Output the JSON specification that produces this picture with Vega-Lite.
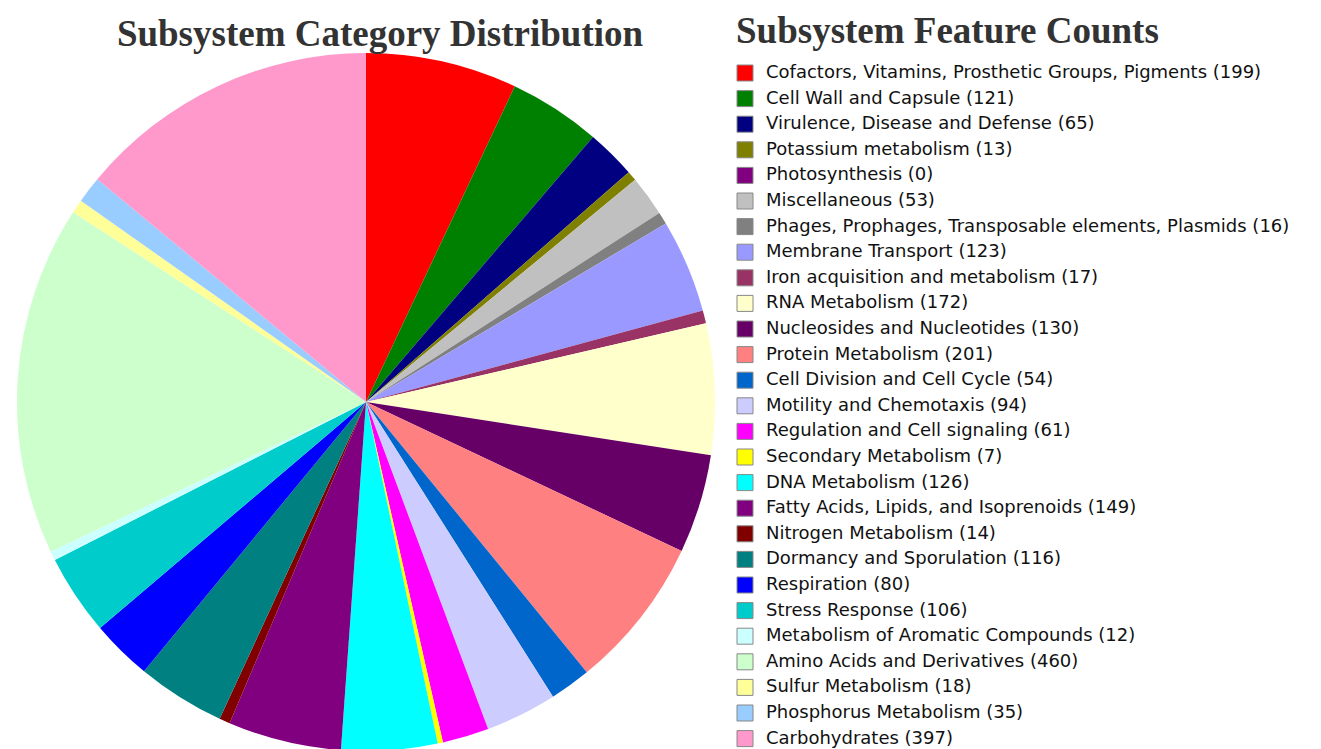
{
  "$schema": "https://vega.github.io/schema/vega-lite/v6.json",
  "autosize": {"type": "none"},
  "width": 732,
  "height": 694,
  "padding": {"top": 55, "left": 0, "right": 589, "bottom": 0},
  "background": "white",
  "view": {"stroke": null},
  "title": {
    "text": "Subsystem Category Distribution",
    "font": "Liberation Serif",
    "fontSize": 37,
    "fontWeight": "bold",
    "color": "#333333",
    "anchor": "middle",
    "dx": 14,
    "dy": 48,
    "offset": 8
  },
  "data": {
    "values": [
      {"i": 1, "name": "Cofactors, Vitamins, Prosthetic Groups, Pigments", "count": 199, "label": "Cofactors, Vitamins, Prosthetic Groups, Pigments (199)"},
      {"i": 2, "name": "Cell Wall and Capsule", "count": 121, "label": "Cell Wall and Capsule (121)"},
      {"i": 3, "name": "Virulence, Disease and Defense", "count": 65, "label": "Virulence, Disease and Defense (65)"},
      {"i": 4, "name": "Potassium metabolism", "count": 13, "label": "Potassium metabolism (13)"},
      {"i": 5, "name": "Photosynthesis", "count": 0, "label": "Photosynthesis (0)"},
      {"i": 6, "name": "Miscellaneous", "count": 53, "label": "Miscellaneous (53)"},
      {"i": 7, "name": "Phages, Prophages, Transposable elements, Plasmids", "count": 16, "label": "Phages, Prophages, Transposable elements, Plasmids (16)"},
      {"i": 8, "name": "Membrane Transport", "count": 123, "label": "Membrane Transport (123)"},
      {"i": 9, "name": "Iron acquisition and metabolism", "count": 17, "label": "Iron acquisition and metabolism (17)"},
      {"i": 10, "name": "RNA Metabolism", "count": 172, "label": "RNA Metabolism (172)"},
      {"i": 11, "name": "Nucleosides and Nucleotides", "count": 130, "label": "Nucleosides and Nucleotides (130)"},
      {"i": 12, "name": "Protein Metabolism", "count": 201, "label": "Protein Metabolism (201)"},
      {"i": 13, "name": "Cell Division and Cell Cycle", "count": 54, "label": "Cell Division and Cell Cycle (54)"},
      {"i": 14, "name": "Motility and Chemotaxis", "count": 94, "label": "Motility and Chemotaxis (94)"},
      {"i": 15, "name": "Regulation and Cell signaling", "count": 61, "label": "Regulation and Cell signaling (61)"},
      {"i": 16, "name": "Secondary Metabolism", "count": 7, "label": "Secondary Metabolism (7)"},
      {"i": 17, "name": "DNA Metabolism", "count": 126, "label": "DNA Metabolism (126)"},
      {"i": 18, "name": "Fatty Acids, Lipids, and Isoprenoids", "count": 149, "label": "Fatty Acids, Lipids, and Isoprenoids (149)"},
      {"i": 19, "name": "Nitrogen Metabolism", "count": 14, "label": "Nitrogen Metabolism (14)"},
      {"i": 20, "name": "Dormancy and Sporulation", "count": 116, "label": "Dormancy and Sporulation (116)"},
      {"i": 21, "name": "Respiration", "count": 80, "label": "Respiration (80)"},
      {"i": 22, "name": "Stress Response", "count": 106, "label": "Stress Response (106)"},
      {"i": 23, "name": "Metabolism of Aromatic Compounds", "count": 12, "label": "Metabolism of Aromatic Compounds (12)"},
      {"i": 24, "name": "Amino Acids and Derivatives", "count": 460, "label": "Amino Acids and Derivatives (460)"},
      {"i": 25, "name": "Sulfur Metabolism", "count": 18, "label": "Sulfur Metabolism (18)"},
      {"i": 26, "name": "Phosphorus Metabolism", "count": 35, "label": "Phosphorus Metabolism (35)"},
      {"i": 27, "name": "Carbohydrates", "count": 397, "label": "Carbohydrates (397)"}
    ]
  },
  "mark": {"type": "arc", "outerRadius": 349},
  "encoding": {
    "theta": {"field": "count", "type": "quantitative", "stack": true},
    "order": {"field": "i", "type": "quantitative"},
    "color": {
      "field": "label",
      "type": "nominal",
      "scale": {
        "domain": [
          "Cofactors, Vitamins, Prosthetic Groups, Pigments (199)",
          "Cell Wall and Capsule (121)",
          "Virulence, Disease and Defense (65)",
          "Potassium metabolism (13)",
          "Photosynthesis (0)",
          "Miscellaneous (53)",
          "Phages, Prophages, Transposable elements, Plasmids (16)",
          "Membrane Transport (123)",
          "Iron acquisition and metabolism (17)",
          "RNA Metabolism (172)",
          "Nucleosides and Nucleotides (130)",
          "Protein Metabolism (201)",
          "Cell Division and Cell Cycle (54)",
          "Motility and Chemotaxis (94)",
          "Regulation and Cell signaling (61)",
          "Secondary Metabolism (7)",
          "DNA Metabolism (126)",
          "Fatty Acids, Lipids, and Isoprenoids (149)",
          "Nitrogen Metabolism (14)",
          "Dormancy and Sporulation (116)",
          "Respiration (80)",
          "Stress Response (106)",
          "Metabolism of Aromatic Compounds (12)",
          "Amino Acids and Derivatives (460)",
          "Sulfur Metabolism (18)",
          "Phosphorus Metabolism (35)",
          "Carbohydrates (397)"
        ],
        "range": [
          "#FF0000", "#008000", "#000080", "#808000", "#800080", "#C0C0C0", "#808080",
          "#9999FF", "#993366", "#FFFFCC", "#660066", "#FF8080", "#0066CC", "#CCCCFF",
          "#FF00FF", "#FFFF00", "#00FFFF", "#800080", "#800000", "#008080", "#0000FF",
          "#00CCCC", "#CCFFFF", "#CCFFCC", "#FFFF99", "#99CCFF", "#FF99CC"
        ]
      },
      "legend": {
        "title": "Subsystem Feature Counts",
        "orient": "none",
        "legendX": 736,
        "legendY": -41,
        "titleFont": "Liberation Serif",
        "titleFontSize": 37,
        "titleFontWeight": "bold",
        "titleColor": "#333333",
        "titlePadding": 13,
        "titleLimit": 600,
        "labelFont": "DejaVu Sans",
        "labelFontSize": 18,
        "labelColor": "#111111",
        "labelLimit": 600,
        "labelOffset": 12,
        "symbolType": "square",
        "symbolSize": 256,
        "symbolStrokeColor": "#888888",
        "symbolStrokeWidth": 1,
        "symbolOpacity": 1,
        "rowPadding": 5.6
      }
    }
  }
}
